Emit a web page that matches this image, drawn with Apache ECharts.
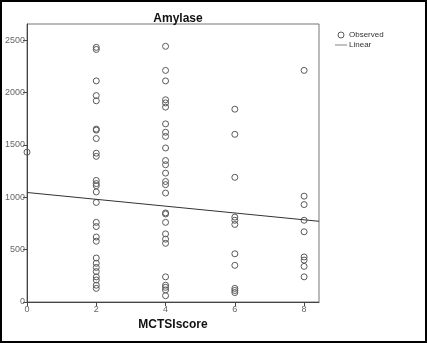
<!DOCTYPE html>
<html>
<head>
<meta charset="utf-8">
<script src="https://cdn.jsdelivr.net/npm/echarts@6/dist/echarts.min.js"></script>
<style>
  html, body { margin: 0; padding: 0; background: #fff; }
  #chart { width: 427px; height: 343px; }
</style>
</head>
<body>
<div id="chart"></div>
<script>
// Amylase readings grouped by MCTSI score
const scores = [0, 2, 4, 6, 8];
const amylaseScore0 = [1430];
const amylaseScore2 = [2430, 2410, 2110, 1970, 1920, 1650, 1640, 1560, 1420, 1390,
  1160, 1130, 1110, 1050, 950, 760, 720, 620, 580, 420, 370, 330, 290, 240, 210, 160, 130];
const amylaseScore4 = [2440, 2210, 2110, 1930, 1900, 1860, 1700, 1620, 1580, 1470,
  1350, 1310, 1230, 1150, 1120, 1040, 850, 840, 760, 650, 600, 560, 240, 160, 140, 115, 60];
const amylaseScore6 = [1840, 1600, 1190, 810, 780, 740, 460, 350, 130, 110, 90];
const amylaseScore8 = [2210, 1010, 930, 780, 670, 430, 400, 340, 240];

// Linear fit: intercept and slope
const fitIntercept = 1045;
const fitSlope = -32.6;

const yTicks = [0, 500, 1000, 1500, 2000, 2500];
const xTicks = [0, 2, 4, 6, 8];

const xMax = 8.43;
const yMax = 2653;

const groups = [amylaseScore0, amylaseScore2, amylaseScore4, amylaseScore6, amylaseScore8];
const observed = [];
groups.forEach((vals, i) => vals.forEach(v => observed.push([scores[i], v])));
const linear = [[0, fitIntercept], [xMax, fitIntercept + fitSlope * xMax]];

const font = '"Liberation Sans", Arial, sans-serif';
const ringStyle = { color: 'rgba(255,255,255,0)', borderColor: '#5a5a5a', borderWidth: 1, opacity: 1 };
const chart = echarts.init(document.getElementById('chart'), null, { renderer: 'canvas' });
chart.setOption({
  animation: false,
  backgroundColor: '#fff',
  title: {
    text: 'Amylase',
    left: 173, top: 8, textAlign: 'center',
    textStyle: { fontFamily: font, fontSize: 12, fontWeight: 'bold', color: '#111' }
  },
  legend: {
    orient: 'vertical', left: 330, top: 26, itemGap: 2,
    itemWidth: 12, itemHeight: 6,
    textStyle: { fontFamily: font, fontSize: 8, color: '#333', padding: [0, 0, 0, -3] },
    data: [
      { name: 'Observed', icon: 'circle', itemStyle: ringStyle },
      { name: 'Linear', icon: 'path://M0,0H20V1H0Z', itemStyle: { color: '#333' } }
    ]
  },
  grid: {
    left: 27, top: 24, right: 108, bottom: 41,
    show: true, borderColor: '#777', borderWidth: 1, backgroundColor: '#fff'
  },
  xAxis: {
    type: 'value', min: 0, max: xMax, interval: 2,
    name: 'MCTSIscore', nameLocation: 'middle', nameGap: 17,
    nameTextStyle: { fontFamily: font, fontSize: 12, fontWeight: 'bold', color: '#111' },
    axisLine: { show: true, lineStyle: { color: '#444' } },
    axisTick: { show: true, length: 4, lineStyle: { color: '#444' } },
    axisLabel: {
      showMaxLabel: false, fontFamily: font, fontSize: 9, color: '#666', margin: 3,
      formatter: v => xTicks.includes(v) ? String(v) : ''
    },
    splitLine: { show: false }
  },
  yAxis: {
    type: 'value', min: 0, max: yMax, interval: 500,
    axisLine: { show: true, lineStyle: { color: '#444' } },
    axisTick: { show: true, length: 4, lineStyle: { color: '#444' } },
    axisLabel: {
      showMaxLabel: false, fontFamily: font, fontSize: 9, color: '#666', margin: 2,
      formatter: v => yTicks.includes(v) ? String(v) : ''
    },
    splitLine: { show: false }
  },
  graphic: [{
    type: 'rect', z: 100, silent: true,
    shape: { x: 1, y: 1, width: 425, height: 341 },
    style: { fill: 'none', stroke: '#000', lineWidth: 2 }
  }],
  series: [
    {
      name: 'Observed', type: 'scatter', data: observed, clip: true,
      symbol: 'circle', symbolSize: 6,
      itemStyle: ringStyle
    },
    {
      name: 'Linear', type: 'line', data: linear, symbol: 'none',
      lineStyle: { color: '#333', width: 1 }, z: 3
    }
  ]
});
</script>
</body>
</html>
